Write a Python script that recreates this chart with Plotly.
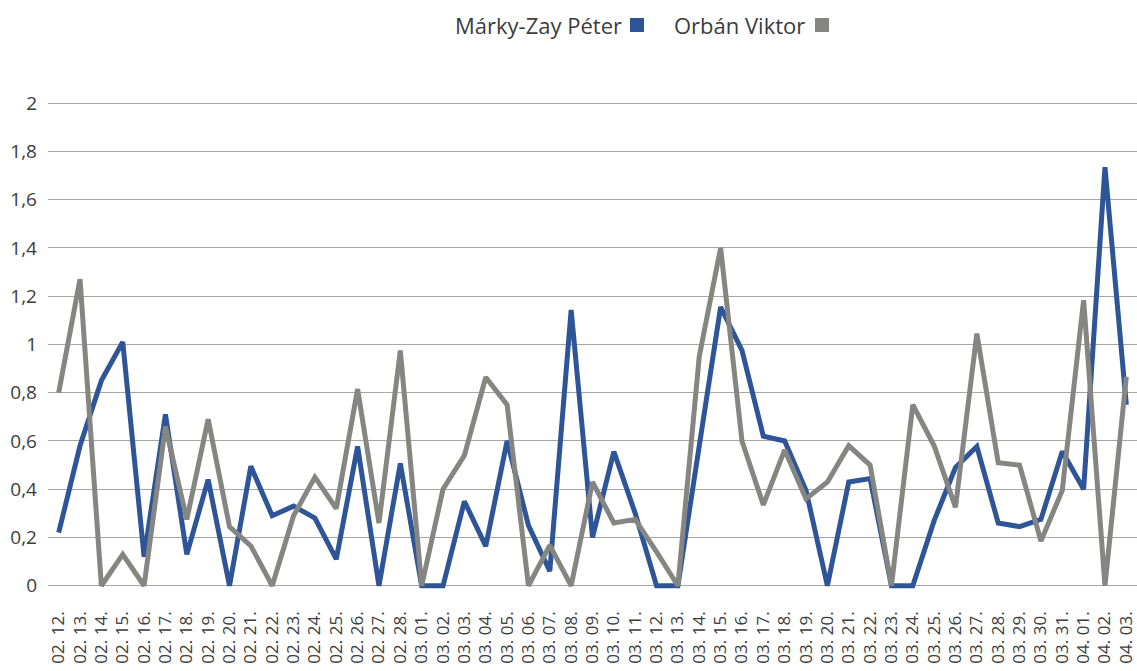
import plotly.graph_objects as go

dates = ["02. 12.", "02. 13.", "02. 14.", "02. 15.", "02. 16.", "02. 17.", "02. 18.", "02. 19.",
         "02. 20.", "02. 21.", "02. 22.", "02. 23.", "02. 24.", "02. 25.", "02. 26.", "02. 27.",
         "02. 28.", "03. 01.", "03. 02.", "03. 03.", "03. 04.", "03. 05.", "03. 06.", "03. 07.",
         "03. 08.", "03. 09.", "03. 10.", "03. 11.", "03. 12.", "03. 13.", "03. 14.", "03. 15.",
         "03. 16.", "03. 17.", "03. 18.", "03. 19.", "03. 20.", "03. 21.", "03. 22.", "03. 23.",
         "03. 24.", "03. 25.", "03. 26.", "03. 27.", "03. 28.", "03. 29.", "03. 30.", "03. 31.",
         "04. 01.", "04. 02.", "04. 03."]

marky_zay = [0.22, 0.58, 0.85, 1.01, 0.12, 0.71, 0.13, 0.44,
             0.0, 0.495, 0.29, 0.33, 0.28, 0.11, 0.577, 0.0,
             0.507, 0.0, 0.0, 0.35, 0.164, 0.60, 0.25, 0.06,
             1.143, 0.20, 0.556, 0.30, 0.0, 0.0, 0.58, 1.155,
             0.975, 0.62, 0.60, 0.395, 0.0, 0.43, 0.444, 0.0,
             0.0, 0.27, 0.49, 0.577, 0.26, 0.245, 0.275, 0.556,
             0.40, 1.734, 0.75]

orban = [0.80, 1.27, 0.0, 0.13, 0.0, 0.66, 0.275, 0.69,
         0.245, 0.165, 0.0, 0.29, 0.45, 0.32, 0.815, 0.26,
         0.975, 0.0, 0.40, 0.54, 0.864, 0.75, 0.0, 0.167,
         0.0, 0.43, 0.26, 0.275, 0.14, 0.0, 0.95, 1.40,
         0.60, 0.335, 0.563, 0.36, 0.43, 0.58, 0.50, 0.0,
         0.75, 0.58, 0.325, 1.045, 0.51, 0.50, 0.185, 0.395,
         1.183, 0.0, 0.866]

series_names = ["Márky-Zay Péter", "Orbán Viktor"]
colors = ["#2e5597", "#858582"]

W, H = 1137, 671
ml, mr, mt, mb = 48, 0, 91, 78

fig = go.Figure()
fig.add_trace(go.Scatter(x=dates, y=marky_zay, mode="lines", name=series_names[0],
                         line=dict(color=colors[0], width=5), showlegend=False))
fig.add_trace(go.Scatter(x=dates, y=orban, mode="lines", name=series_names[1],
                         line=dict(color=colors[1], width=5), showlegend=False))

plot_w = W - ml - mr
plot_h = H - mt - mb

def px_to_paper_x(px):
    return (px - ml) / plot_w

def px_to_paper_y(py):
    return (H - mb - py) / plot_h

font_family = "Open Sans, Noto Sans, DejaVu Sans, sans-serif"
text_color = "#3c3c3c"

# custom legend (text followed by square, as in the reference)
legend_items = [(series_names[0], colors[0], 624, 630), (series_names[1], colors[1], 807, 815)]
for name, col, text_right, sq_left in legend_items:
    fig.add_annotation(text=name, x=px_to_paper_x(text_right), y=px_to_paper_y(25),
                       xref="paper", yref="paper", xanchor="right", yanchor="middle",
                       showarrow=False, font=dict(family=font_family, size=22, color=text_color))
    fig.add_shape(type="rect", xref="paper", yref="paper",
                  x0=px_to_paper_x(sq_left), x1=px_to_paper_x(sq_left + 14),
                  y0=px_to_paper_y(32), y1=px_to_paper_y(18),
                  fillcolor=col, line=dict(width=0))

fig.update_layout(
    width=W, height=H,
    margin=dict(l=ml, r=mr, t=mt, b=mb, autoexpand=False),
    plot_bgcolor="white", paper_bgcolor="white",
    separators=", ",
    font=dict(family=font_family, color=text_color),
    showlegend=False,
)
fig.update_xaxes(
    type="category", range=[-0.5, len(dates) - 0.5],
    tickangle=-90, tickfont=dict(size=17, color=text_color),
    showgrid=False, showline=False, ticks="", ticklabelstandoff=14,
    automargin=False,
)
fig.update_yaxes(
    range=[-0.03, 2.05], tickvals=[0, 0.2, 0.4, 0.6, 0.8, 1, 1.2, 1.4, 1.6, 1.8, 2],
    tickfont=dict(size=19, color=text_color),
    showgrid=True, gridcolor="#a6a6a6", gridwidth=1.3, zeroline=False,
    showline=False, ticks="", ticklabelstandoff=10, automargin=False,
)

fig.write_html("out.html", config={"displayModeBar": False},
               post_script="document.body.style.margin='0';document.body.style.padding='0';")
